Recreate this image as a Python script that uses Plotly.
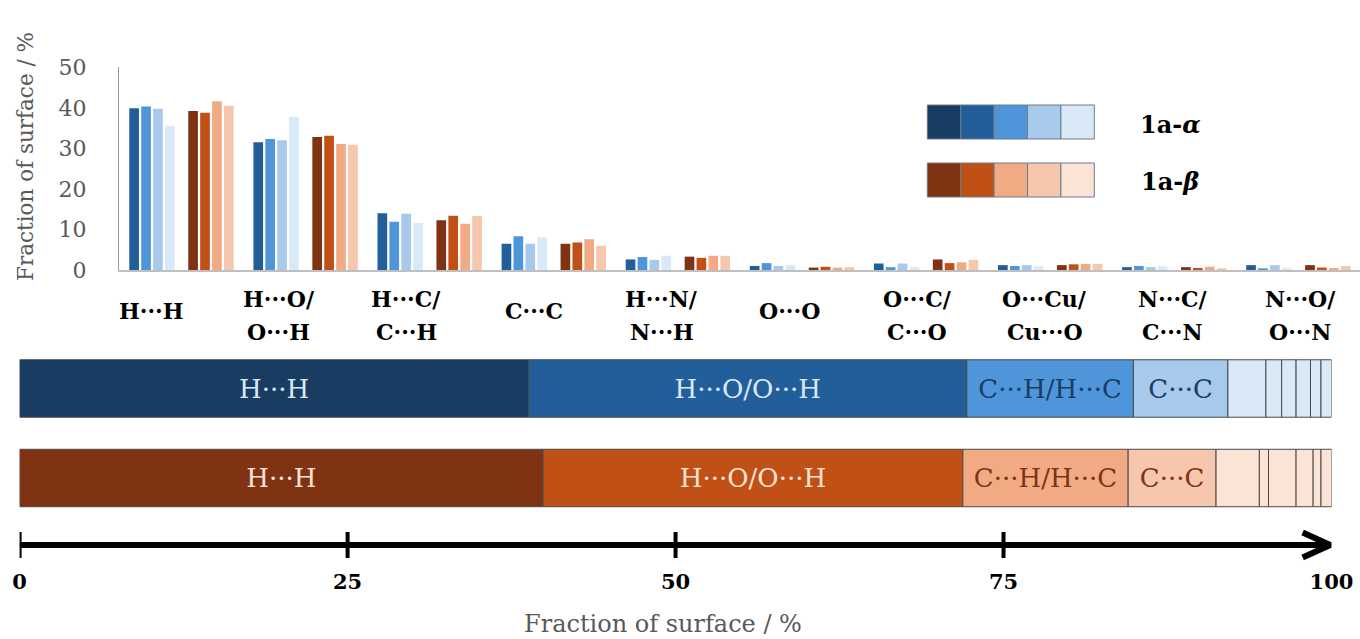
import numpy as np
import plotly.graph_objects as go

W, H = 1360, 639
SERIF = "DejaVu Serif"

# Contact types (top panel categories)
contacts = ["H···H", "H···O/O···H", "H···C/C···H", "C···C", "H···N/N···H",
            "O···O", "O···C/C···O", "O···Cu/Cu···O", "N···C/C···N", "N···O/O···N"]

# Fraction of surface (%) for the four 1a-α data sets
alpha_1 = [39.9, 31.5, 14.0, 6.5, 2.6, 1.0, 1.6, 1.2, 0.7, 1.2]
alpha_2 = [40.3, 32.3, 11.9, 8.3, 3.2, 1.7, 0.7, 1.0, 1.0, 0.2]
alpha_3 = [39.8, 32.0, 13.9, 6.5, 2.5, 1.0, 1.6, 1.2, 0.7, 1.2]
alpha_4 = [35.6, 37.8, 11.6, 8.0, 3.5, 1.2, 0.7, 0.9, 0.9, 0.4]

# Fraction of surface (%) for the four 1a-β data sets
beta_1 = [39.2, 32.8, 12.3, 6.5, 3.3, 0.6, 2.6, 1.2, 0.7, 1.2]
beta_2 = [38.8, 33.1, 13.4, 6.8, 3.0, 0.8, 1.7, 1.4, 0.5, 0.6]
beta_3 = [41.6, 31.1, 11.4, 7.6, 3.5, 0.6, 1.9, 1.5, 0.8, 0.5]
beta_4 = [40.5, 30.9, 13.3, 6.0, 3.5, 0.7, 2.5, 1.5, 0.3, 1.0]

# Overall surface shares (%) for the stacked bars, same contact order
share_labels = ["H···H", "H···O/O···H", "C···H/H···C", "C···C", "", "", "", "", "", ""]
alpha_share = [38.8, 33.4, 12.7, 7.2, 2.9, 1.2, 1.1, 1.1, 0.8, 0.8]
beta_share = [39.9, 32.0, 12.6, 6.7, 3.3, 0.7, 2.1, 1.3, 0.6, 0.8]

y_ticks = [0, 10, 20, 30, 40, 50]
scale_ticks = [0, 25, 50, 75, 100]
legend_names = ["1a-<i>α</i>", "1a-<i>β</i>"]

blues = ["#193c63", "#225f9a", "#4e95d9", "#a6c9ec", "#dae9f7"]
oranges = ["#7f3313", "#c05016", "#f2aa84", "#f6c6ad", "#fbe3d6"]


def px(x):
    return x / W


def py(y):
    return 1 - y / H


fig = go.Figure()

# ---- top panel: grouped bars per contact type ----
bar_w = 0.078
alpha_sets = [alpha_1, alpha_2, alpha_3, alpha_4]
beta_sets = [beta_1, beta_2, beta_3, beta_4]
alpha_offsets = [-0.417, -0.321, -0.225, -0.129]
beta_offsets = [0.058, 0.154, 0.250, 0.346]

for vals, col, off in zip(alpha_sets, blues[1:], alpha_offsets):
    fig.add_trace(go.Bar(x=contacts, y=vals, offset=off, width=bar_w,
                         marker=dict(color=col, line=dict(width=0)),
                         xaxis="x", yaxis="y", showlegend=False, hoverinfo="skip"))
for vals, col, off in zip(beta_sets, oranges[:4], beta_offsets):
    fig.add_trace(go.Bar(x=contacts, y=vals, offset=off, width=bar_w,
                         marker=dict(color=col, line=dict(width=0)),
                         xaxis="x", yaxis="y", showlegend=False, hoverinfo="skip"))

# ---- bottom panel: stacked horizontal bars (alpha on top row) ----
a_base = np.concatenate([[0.0], np.cumsum(alpha_share)[:-1]])
b_base = np.concatenate([[0.0], np.cumsum(beta_share)[:-1]])
for k in range(len(alpha_share)):
    ci = min(k, 4)
    txt_cols = [blues[4], oranges[4]] if k < 2 else [blues[0], oranges[0]]
    fig.add_trace(go.Bar(
        orientation="h", y=[1, 0], x=[alpha_share[k], beta_share[k]],
        base=[a_base[k], b_base[k]], width=0.642,
        marker=dict(color=[blues[ci], oranges[ci]],
                    line=dict(color="#4a4a4a", width=1)),
        text=[share_labels[k]] * 2, textposition="inside",
        insidetextanchor="middle", textangle=0,
        textfont=dict(family=SERIF, size=26, color=txt_cols),
        xaxis="x2", yaxis="y2", showlegend=False, hoverinfo="skip"))

shapes = []
annotations = []


def label(text, x, y, size, color, angle=0):
    annotations.append(dict(text=text, xref="paper", yref="paper", x=x, y=y,
                            xanchor="center", yanchor="middle", textangle=angle,
                            showarrow=False,
                            font=dict(family=SERIF, size=size, color=color)))


# legend swatches
sw_x0, sw_w = 927.3, 33.4
for row, (pal, y0, y1) in enumerate([(blues, 105, 139), (oranges, 163, 197)]):
    for j, col in enumerate(pal):
        shapes.append(dict(type="rect", xref="paper", yref="paper",
                           x0=px(sw_x0 + j * sw_w), x1=px(sw_x0 + (j + 1) * sw_w),
                           y0=py(y1), y1=py(y0), fillcolor=col,
                           line=dict(color="#6e7b8b", width=1)))
for name, yc in zip(legend_names, [124, 181]):
    label("<b>" + name + "</b>", px(1170), py(yc), 24, "#000000")

# category labels under the top panel
lab_x0, lab_step = 151, 127.7
for i, name in enumerate(contacts):
    xc = px(lab_x0 + i * lab_step)
    if "/" in name:
        first, second = name.split("/")
        lines = [(first + "/", 298.5), (second, 332)]
    else:
        lines = [(name, 311)]
    for t, yc in lines:
        label("<b>" + t + "</b>", xc, py(yc), 22, "#000000")

# y-axis title of the top panel
label("Fraction of surface / %", px(25), py(157), 21.5, "#595959", angle=-90)
# title of the percentage scale
label("Fraction of surface / %", px(663), py(624), 24, "#595959")

# percentage scale arrow with crossing ticks
axis_y = 545
shapes.append(dict(type="line", xref="x2", yref="paper", x0=0, x1=99.6,
                   y0=py(axis_y), y1=py(axis_y), line=dict(color="black", width=6)))
for t in scale_ticks[:-1]:
    shapes.append(dict(type="line", xref="x2", yref="paper", x0=t, x1=t,
                       y0=py(532), y1=py(558), line=dict(color="black", width=4)))
shapes.append(dict(type="path", xref="x2", yref="paper",
                   path=f"M 97.8,{py(532.5)} L 99.9,{py(axis_y)} L 97.8,{py(557.5)}",
                   line=dict(color="black", width=6)))

fig.update_layout(
    width=W, height=H, margin=dict(l=0, r=0, t=0, b=0, autoexpand=False),
    paper_bgcolor="white", plot_bgcolor="white",
    barmode="overlay", hovermode=False,
    xaxis=dict(domain=[px(119), 1.0], type="category", range=[-0.5, 9.5],
               automargin=False,
               showline=True, linecolor="#bfbfbf", linewidth=2,
               showticklabels=False, ticks="", showgrid=False, zeroline=False),
    yaxis=dict(domain=[py(270), py(67.3)], range=[0, 50], tickvals=y_ticks,
               automargin=False,
               showline=True, linecolor="#8e9bb0", linewidth=1, ticks="",
               showgrid=False, zeroline=False, ticklabelstandoff=27,
               tickfont=dict(family=SERIF, size=22, color="#595959")),
    xaxis2=dict(domain=[px(19.6), px(1331.5)], range=[0, 100], anchor="free",
                position=py(axis_y), tickvals=scale_ticks, automargin=False,
                ticktext=[f"<b>{t}</b>" for t in scale_ticks],
                showline=False, ticks="", showgrid=False, zeroline=False,
                ticklabelstandoff=22,
                tickfont=dict(family=SERIF, size=21, color="#000000")),
    yaxis2=dict(domain=[py(522.75), py(343.75)], range=[-0.5, 1.5], anchor="x2",
                automargin=False, visible=False),
    shapes=shapes, annotations=annotations,
)

fig.write_html("out.html")
